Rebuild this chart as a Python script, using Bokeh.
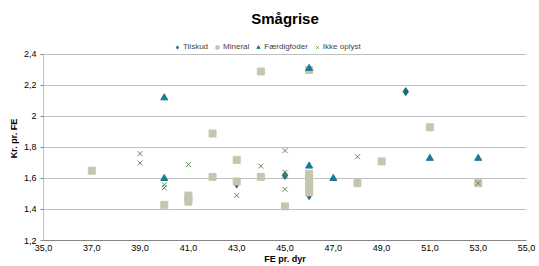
from bokeh.plotting import figure
from bokeh.models import FixedTicker, Legend, LegendItem
from bokeh.embed import file_html
from bokeh.resources import INLINE

# Data
tilskud_x = [50, 45, 46, 43]
tilskud_y = [2.16, 1.62, 1.49, 1.565]

mineral_x = [37, 40, 41, 41, 41, 42, 42, 43, 43, 44, 44, 45, 46, 46, 46, 46, 46, 46, 48, 49, 51, 53, 46]
mineral_y = [1.65, 1.43, 1.45, 1.47, 1.49, 1.89, 1.61, 1.72, 1.58, 2.29, 1.61, 1.42,
             1.63, 1.60, 1.57, 1.55, 1.53, 1.51, 1.57, 1.71, 1.93, 1.57, 2.30]

faerdig_x = [40, 40, 46, 46, 47, 51, 53]
faerdig_y = [2.12, 1.60, 2.31, 1.68, 1.60, 1.73, 1.73]

ikke_x = [39, 39, 40, 40, 41, 43, 44, 45, 45, 45, 45, 48, 53]
ikke_y = [1.76, 1.70, 1.56, 1.54, 1.69, 1.49, 1.68, 1.78, 1.64, 1.62, 1.53, 1.74, 1.57]

x_ticks = [35, 37, 39, 41, 43, 45, 47, 49, 51, 53, 55]
x_labels = ["35,0", "37,0", "39,0", "41,0", "43,0", "45,0", "47,0", "49,0", "51,0", "53,0", "55,0"]
y_ticks = [1.2, 1.4, 1.6, 1.8, 2.0, 2.2, 2.4]
y_labels = ["1,2", "1,4", "1,6", "1,8", "2", "2,2", "2,4"]

FONT = "Liberation Sans"
Y_MIN, Y_MAX = 1.2, 2.4
# frame extends above 2.4 so that the legend fits inside it
Y_TOP = Y_MIN + (241 - 36) * (Y_MAX - Y_MIN) / 187

p = figure(width=539, height=266, x_range=(35, 55), y_range=(Y_MIN, Y_TOP),
           output_backend="svg", toolbar_location=None,
           min_border_left=43, min_border_right=13, min_border_bottom=25, min_border_top=36)

p.title.text = "Smågrise"
p.title.align = "center"
p.title.vertical_align = "top"
p.title.text_font = FONT
p.title.text_font_size = "15px"
p.title.text_font_style = "bold"
p.title.text_color = "#000000"
p.title.standoff = 15

r_t = p.scatter(tilskud_x, tilskud_y, marker="diamond", size=8, color="#17697a")
r_m = p.scatter(mineral_x, mineral_y, marker="square", size=7, color="#c6c6b0")
r_f = p.scatter(faerdig_x, faerdig_y, marker="triangle", size=7, color="#1a7a98")
r_i = p.scatter(ikke_x, ikke_y, marker="x", size=7, line_color="#5e8f5a", line_width=1)

# y axis line only up to 2.4
p.segment(x0=[35], y0=[Y_MIN], x1=[35], y1=[Y_MAX], line_color="#868686", line_width=1)

p.xaxis.ticker = FixedTicker(ticks=x_ticks)
p.xaxis.major_label_overrides = {t: l for t, l in zip(x_ticks, x_labels)}
p.yaxis.ticker = FixedTicker(ticks=y_ticks)
p.yaxis.major_label_overrides = {t: l for t, l in zip(y_ticks, y_labels)}

for ax in [p.xaxis[0], p.yaxis[0]]:
    ax.major_label_text_font = FONT
    ax.major_label_text_font_size = "9px"
    ax.major_label_text_color = "#000000"
    ax.axis_line_color = "#868686"
    ax.minor_tick_line_color = None
    ax.major_tick_line_color = "#868686"
    ax.major_tick_in = 0
    ax.major_tick_out = 3
    ax.axis_label_text_font = FONT
    ax.axis_label_text_font_size = "9px"
    ax.axis_label_text_font_style = "bold"
    ax.axis_label_text_color = "#000000"

p.yaxis.axis_line_color = None
p.xaxis.major_tick_line_color = None
p.xaxis.major_tick_out = 0
p.xaxis.major_label_standoff = 4
p.yaxis.major_label_standoff = 4

p.yaxis.axis_label = "Kr. pr. FE"
p.yaxis.axis_label_standoff = 2
p.xaxis.axis_label = "FE pr. dyr"
p.xaxis.axis_label_standoff = 0

p.xgrid.grid_line_color = None
p.ygrid.grid_line_color = "#c0c0c0"
p.ygrid.grid_line_width = 1
p.outline_line_color = None

legend = Legend(items=[LegendItem(label="Tilskud", renderers=[r_t]),
                       LegendItem(label="Mineral", renderers=[r_m]),
                       LegendItem(label="Færdigfoder", renderers=[r_f]),
                       LegendItem(label="Ikke oplyst", renderers=[r_i])],
                orientation="horizontal", location=(130, 189),
                label_text_font=FONT, label_text_font_size="8px",
                label_height=8, glyph_width=8, glyph_height=8, label_standoff=2, spacing=5,
                padding=1, margin=0, border_line_color=None, background_fill_alpha=0)
p.add_layout(legend, "center")

open("out.html", "w").write(file_html(p, INLINE))
